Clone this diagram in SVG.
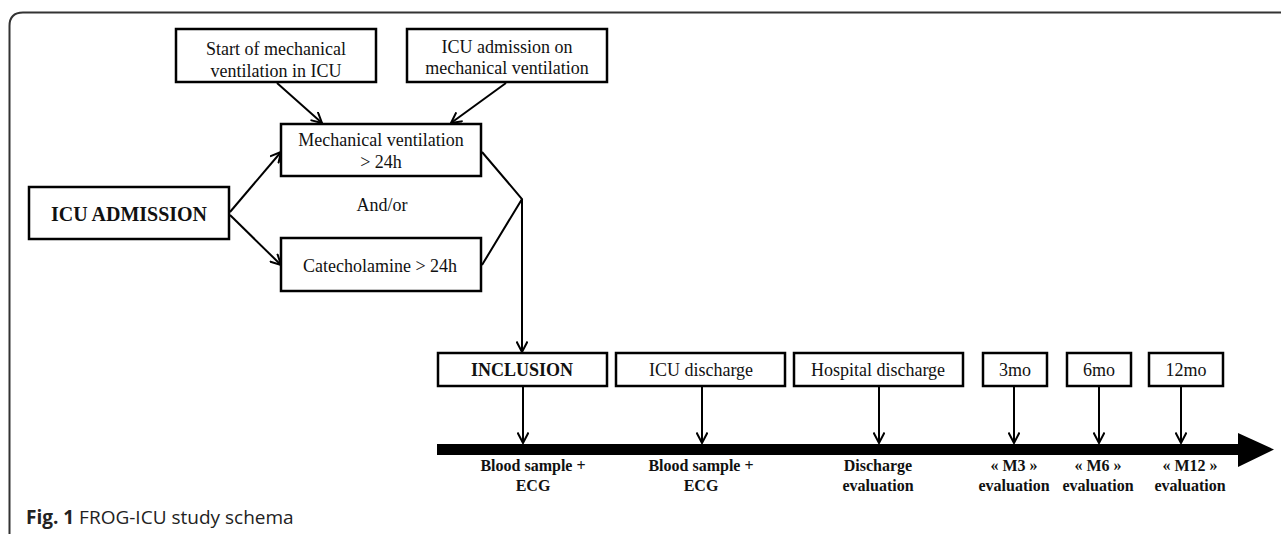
<svg xmlns="http://www.w3.org/2000/svg" width="1281" height="534" viewBox="0 0 1281 534">
<style>
.box{fill:#fff;stroke:#000;stroke-width:2.5}
.t{font-family:"Liberation Serif","Times New Roman",serif;font-size:18px;fill:#111;text-anchor:middle}
.b{font-weight:bold}
.lbl{font-family:"Liberation Serif","Times New Roman",serif;font-size:16px;font-weight:bold;fill:#111;text-anchor:middle}
.c{stroke:#000;stroke-width:2;fill:none}
.cap{font-family:"Open Sans","Noto Sans",sans-serif;font-size:19px;fill:#222}
</style>
<defs>
<marker id="ah" viewBox="0 0 12 12" refX="11" refY="6" markerWidth="12" markerHeight="12" markerUnits="userSpaceOnUse" orient="auto">
<path d="M0.5,0.5 L11,6 L0.5,11.5" fill="none" stroke="#000" stroke-width="2"/>
</marker>
</defs>
<rect width="1281" height="534" fill="#fff"/>
<path d="M9.5,534 L9.5,26 Q9.5,12.5 23,12.5 L1281,12.5" fill="none" stroke="#333" stroke-width="2"/>

<g id="connectors">
<line class="c" x1="277" y1="83" x2="322" y2="123" marker-end="url(#ah)"/>
<line class="c" x1="506" y1="83" x2="451" y2="123" marker-end="url(#ah)"/>
<line class="c" x1="230" y1="212" x2="281" y2="152" marker-end="url(#ah)"/>
<line class="c" x1="230" y1="215" x2="281" y2="265" marker-end="url(#ah)"/>
<polyline class="c" points="482,152 522,199 482,265"/>
<line class="c" x1="522" y1="199" x2="522" y2="352" marker-end="url(#ah)"/>
<line class="c" x1="523" y1="387" x2="523" y2="443" marker-end="url(#ah)"/>
<line class="c" x1="702" y1="387" x2="702" y2="443" marker-end="url(#ah)"/>
<line class="c" x1="879" y1="387" x2="879" y2="443" marker-end="url(#ah)"/>
<line class="c" x1="1014" y1="387" x2="1014" y2="443" marker-end="url(#ah)"/>
<line class="c" x1="1099" y1="387" x2="1099" y2="443" marker-end="url(#ah)"/>
<line class="c" x1="1181" y1="387" x2="1181" y2="443" marker-end="url(#ah)"/>
</g>

<g id="timeline">
<rect x="437" y="444" width="802" height="11" fill="#000"/>
<polygon points="1238,433 1274,449.5 1238,467" fill="#000"/>
</g>

<g id="n-start">
<rect class="box" x="176" y="29" width="200" height="53"/>
<text class="t" x="276" y="55">Start of mechanical</text>
<text class="t" x="276" y="77">ventilation in ICU</text>
</g>
<g id="n-admvent">
<rect class="box" x="407" y="29" width="200" height="53"/>
<text class="t" x="507" y="53">ICU admission on</text>
<text class="t" x="507" y="74">mechanical  ventilation</text>
</g>
<g id="n-mech">
<rect class="box" x="281" y="124" width="200" height="52"/>
<text class="t" x="381" y="146">Mechanical  ventilation</text>
<text class="t" x="381" y="168">&gt; 24h</text>
</g>
<g id="n-andor">
<text class="t" x="382" y="211">And/or</text>
</g>
<g id="n-icuadm">
<rect class="box" x="29" y="187" width="200" height="52"/>
<text class="t b" x="129" y="221" style="font-size:20px">ICU ADMISSION</text>
</g>
<g id="n-cat">
<rect class="box" x="281" y="238" width="200" height="53"/>
<text class="t" x="380" y="272">Catecholamine &gt; 24h</text>
</g>

<g id="n-incl">
<rect class="box" x="438" y="353" width="169" height="33"/>
<text class="t b" x="522" y="376">INCLUSION</text>
</g>
<g id="n-icudis">
<rect class="box" x="616" y="353" width="169" height="33"/>
<text class="t" x="701" y="376">ICU discharge</text>
</g>
<g id="n-hosp">
<rect class="box" x="794" y="353" width="169" height="33"/>
<text class="t" x="878" y="376">Hospital discharge</text>
</g>
<g id="n-3mo">
<rect class="box" x="983" y="353" width="64" height="33"/>
<text class="t" x="1015" y="376">3mo</text>
</g>
<g id="n-6mo">
<rect class="box" x="1067" y="353" width="64" height="33"/>
<text class="t" x="1099" y="376">6mo</text>
</g>
<g id="n-12mo">
<rect class="box" x="1149" y="353" width="74" height="33"/>
<text class="t" x="1186" y="376">12mo</text>
</g>

<g id="labels">
<text class="lbl" x="533" y="471">Blood sample +</text>
<text class="lbl" x="533" y="491">ECG</text>
<text class="lbl" x="701" y="471">Blood sample +</text>
<text class="lbl" x="701" y="491">ECG</text>
<text class="lbl" x="878" y="471">Discharge</text>
<text class="lbl" x="878" y="491">evaluation</text>
<text class="lbl" x="1014" y="471">« M3 »</text>
<text class="lbl" x="1014" y="491">evaluation</text>
<text class="lbl" x="1098" y="471">« M6 »</text>
<text class="lbl" x="1098" y="491">evaluation</text>
<text class="lbl" x="1190" y="471">« M12 »</text>
<text class="lbl" x="1190" y="491">evaluation</text>
</g>

<g id="caption">
<text class="cap" x="26" y="524"><tspan font-weight="bold">Fig. 1</tspan> FROG-ICU study schema</text>
</g>
</svg>
